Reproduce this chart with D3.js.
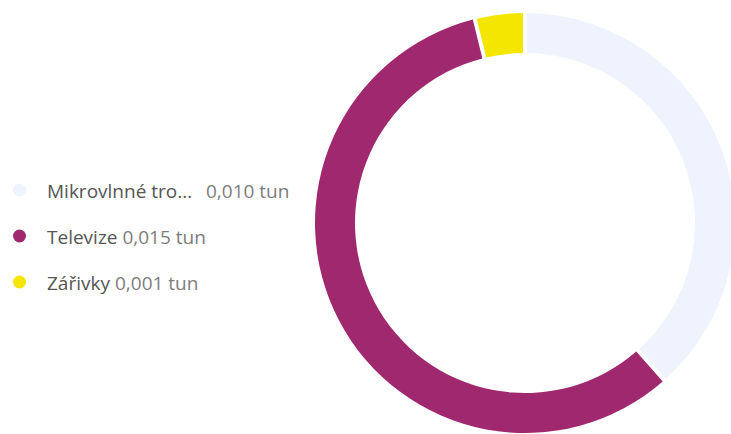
<!DOCTYPE html>
<html>
<head>
<meta charset="utf-8">
<script src="https://cdn.jsdelivr.net/npm/d3@7"></script>
<style>
  body { margin: 0; background: #fff; }
  svg { display: block; font-family: "Open Sans", "Noto Sans", sans-serif; }
</style>
</head>
<body>
<div id="chart"></div>
<script>
// kategorie a hodnoty (tuny)
const categories = ["Mikrovlnné tro...", "Televize", "Zářivky"];
const values = [0.010, 0.015, 0.001];
const valueLabels = ["0,010 tun", "0,015 tun", "0,001 tun"];
const colors = ["#EEF3FE", "#A0286E", "#F5E600"];

const width = 731, height = 434;
const svg = d3.select("#chart").append("svg").attr("width", width).attr("height", height);

const data = categories.map((c, i) => ({ name: c, value: values[i], label: valueLabels[i], color: colors[i] }));

// prstenec
const cx = 525, cy = 223, outerR = 210, innerR = 170;
const pie = d3.pie().value(d => d.value).sort(null);
const arc = d3.arc().innerRadius(innerR).outerRadius(outerR).padAngle(4 / 190).padRadius(190);

const g = svg.append("g").attr("transform", `translate(${cx},${cy})`);
g.selectAll("path").data(pie(data)).enter().append("path")
  .attr("d", arc)
  .attr("fill", d => d.data.color);

// legenda
const rowY = d3.scalePoint().domain(d3.range(data.length)).range([190, 282]);
const leg = svg.append("g");
data.forEach((d, i) => {
  const row = leg.append("g").attr("transform", `translate(0,${rowY(i)})`);
  row.append("circle").attr("cx", 19.5).attr("cy", 0).attr("r", 6.5).attr("fill", d.color);
  const name = row.append("text").attr("x", 47).attr("y", 8)
    .style("font-size", "19px").attr("fill", "#555555").text(d.name);
  const w = name.node().getComputedTextLength();
  row.append("text").attr("x", i === 0 ? 206 : 47 + w + 5).attr("y", 8)
    .style("font-size", "19px").attr("fill", "#7d7d7d").text(d.label);
});
</script>
</body>
</html>
